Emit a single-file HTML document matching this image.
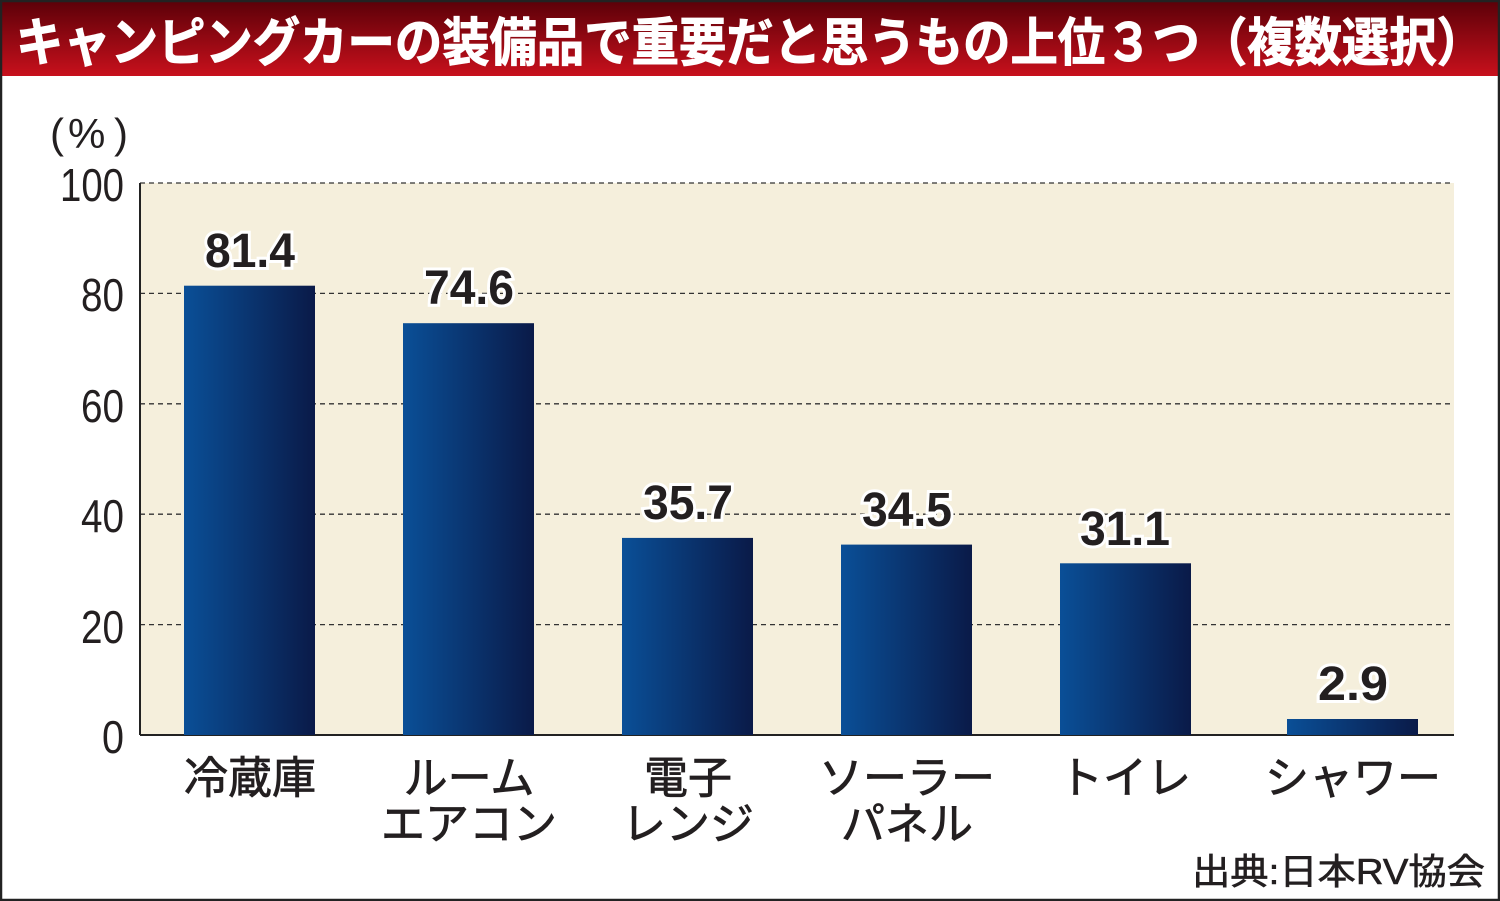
<!DOCTYPE html>
<html><head><meta charset="utf-8"><style>
html,body{margin:0;padding:0;background:#fff;}
svg{display:block;}
text{font-family:"Liberation Sans","Noto Sans CJK JP",sans-serif;}
</style></head><body>
<svg width="1500" height="901" viewBox="0 0 1500 901" xmlns="http://www.w3.org/2000/svg">
<defs>
<linearGradient id="tg" x1="0" y1="0" x2="0" y2="1">
<stop offset="0" stop-color="#5a0008"/><stop offset="1" stop-color="#c8101c"/>
</linearGradient>
<linearGradient id="bg" x1="0" y1="0" x2="1" y2="0">
<stop offset="0" stop-color="#0a4f97"/><stop offset="1" stop-color="#0a1a48"/>
</linearGradient>
</defs>
<rect x="0" y="0" width="1500" height="901" fill="#fff"/>
<rect x="0" y="0" width="1500" height="76" fill="url(#tg)"/>
<text x="16" y="61" font-size="52" font-weight="bold" fill="#fff" stroke="#fff" stroke-width="1" textLength="1468" lengthAdjust="spacingAndGlyphs">キャンピングカーの装備品で重要だと思うもの上位３つ（複数選択）</text>
<rect x="1" y="1" width="1498" height="899" fill="none" stroke="#222" stroke-width="2.5"/>
<rect x="140" y="183" width="1314" height="552" fill="#f5efdc"/>
<g stroke="#333" stroke-width="1.3" stroke-dasharray="5,4">
<line x1="140" y1="183" x2="1454" y2="183"/>
<line x1="140" y1="293.4" x2="1454" y2="293.4"/>
<line x1="140" y1="403.8" x2="1454" y2="403.8"/>
<line x1="140" y1="514.2" x2="1454" y2="514.2"/>
<line x1="140" y1="624.6" x2="1454" y2="624.6"/>
</g>
<line x1="140" y1="183" x2="140" y2="735" stroke="#222" stroke-width="2"/>
<line x1="140" y1="735" x2="1454" y2="735" stroke="#222" stroke-width="2"/>
<g fill="#231f20" font-size="46" text-anchor="end">
<text x="124" y="201" textLength="64" lengthAdjust="spacingAndGlyphs">100</text>
<text x="124" y="311" textLength="43" lengthAdjust="spacingAndGlyphs">80</text>
<text x="124" y="422" textLength="43" lengthAdjust="spacingAndGlyphs">60</text>
<text x="124" y="532" textLength="43" lengthAdjust="spacingAndGlyphs">40</text>
<text x="124" y="643" textLength="43" lengthAdjust="spacingAndGlyphs">20</text>
<text x="124" y="753" textLength="22" lengthAdjust="spacingAndGlyphs">0</text>
</g>
<g font-size="42" fill="#231f20">
<text x="50" y="148">(</text>
<text x="68" y="148">%</text>
<text x="114" y="148">)</text>
</g>
<g fill="url(#bg)">
<rect x="184" y="285.7" width="131" height="449.3"/>
<rect x="403" y="323.2" width="131" height="411.8"/>
<rect x="622" y="537.9" width="131" height="197.1"/>
<rect x="841" y="544.6" width="131" height="190.4"/>
<rect x="1060" y="563.3" width="131" height="171.7"/>
<rect x="1287" y="719" width="131" height="16"/>
</g>
<g font-size="48" font-weight="bold" fill="#231f20" stroke="#fff" stroke-width="6" paint-order="stroke" text-anchor="middle">
<text x="250" y="267" textLength="90" lengthAdjust="spacingAndGlyphs">81.4</text>
<text x="469" y="304" textLength="90" lengthAdjust="spacingAndGlyphs">74.6</text>
<text x="688" y="519" textLength="90" lengthAdjust="spacingAndGlyphs">35.7</text>
<text x="907" y="526" textLength="90" lengthAdjust="spacingAndGlyphs">34.5</text>
<text x="1125" y="545" textLength="90" lengthAdjust="spacingAndGlyphs">31.1</text>
<text x="1353" y="700" textLength="70" lengthAdjust="spacingAndGlyphs">2.9</text>
</g>
<g font-size="44" fill="#231f20" stroke="#231f20" stroke-width="0.8" text-anchor="middle">
<text x="250" y="793">冷蔵庫</text>
<text x="469" y="793">ルーム</text>
<text x="469" y="839">エアコン</text>
<text x="688" y="793">電子</text>
<text x="688" y="839">レンジ</text>
<text x="907" y="793">ソーラー</text>
<text x="907" y="839">パネル</text>
<text x="1125" y="793">トイレ</text>
<text x="1353" y="793">シャワー</text>
</g>
<text x="1485" y="884" font-size="36" fill="#231f20" stroke="#231f20" stroke-width="0.6" text-anchor="end" textLength="293" lengthAdjust="spacingAndGlyphs">出典:日本RV協会</text>
</svg>
</body></html>
